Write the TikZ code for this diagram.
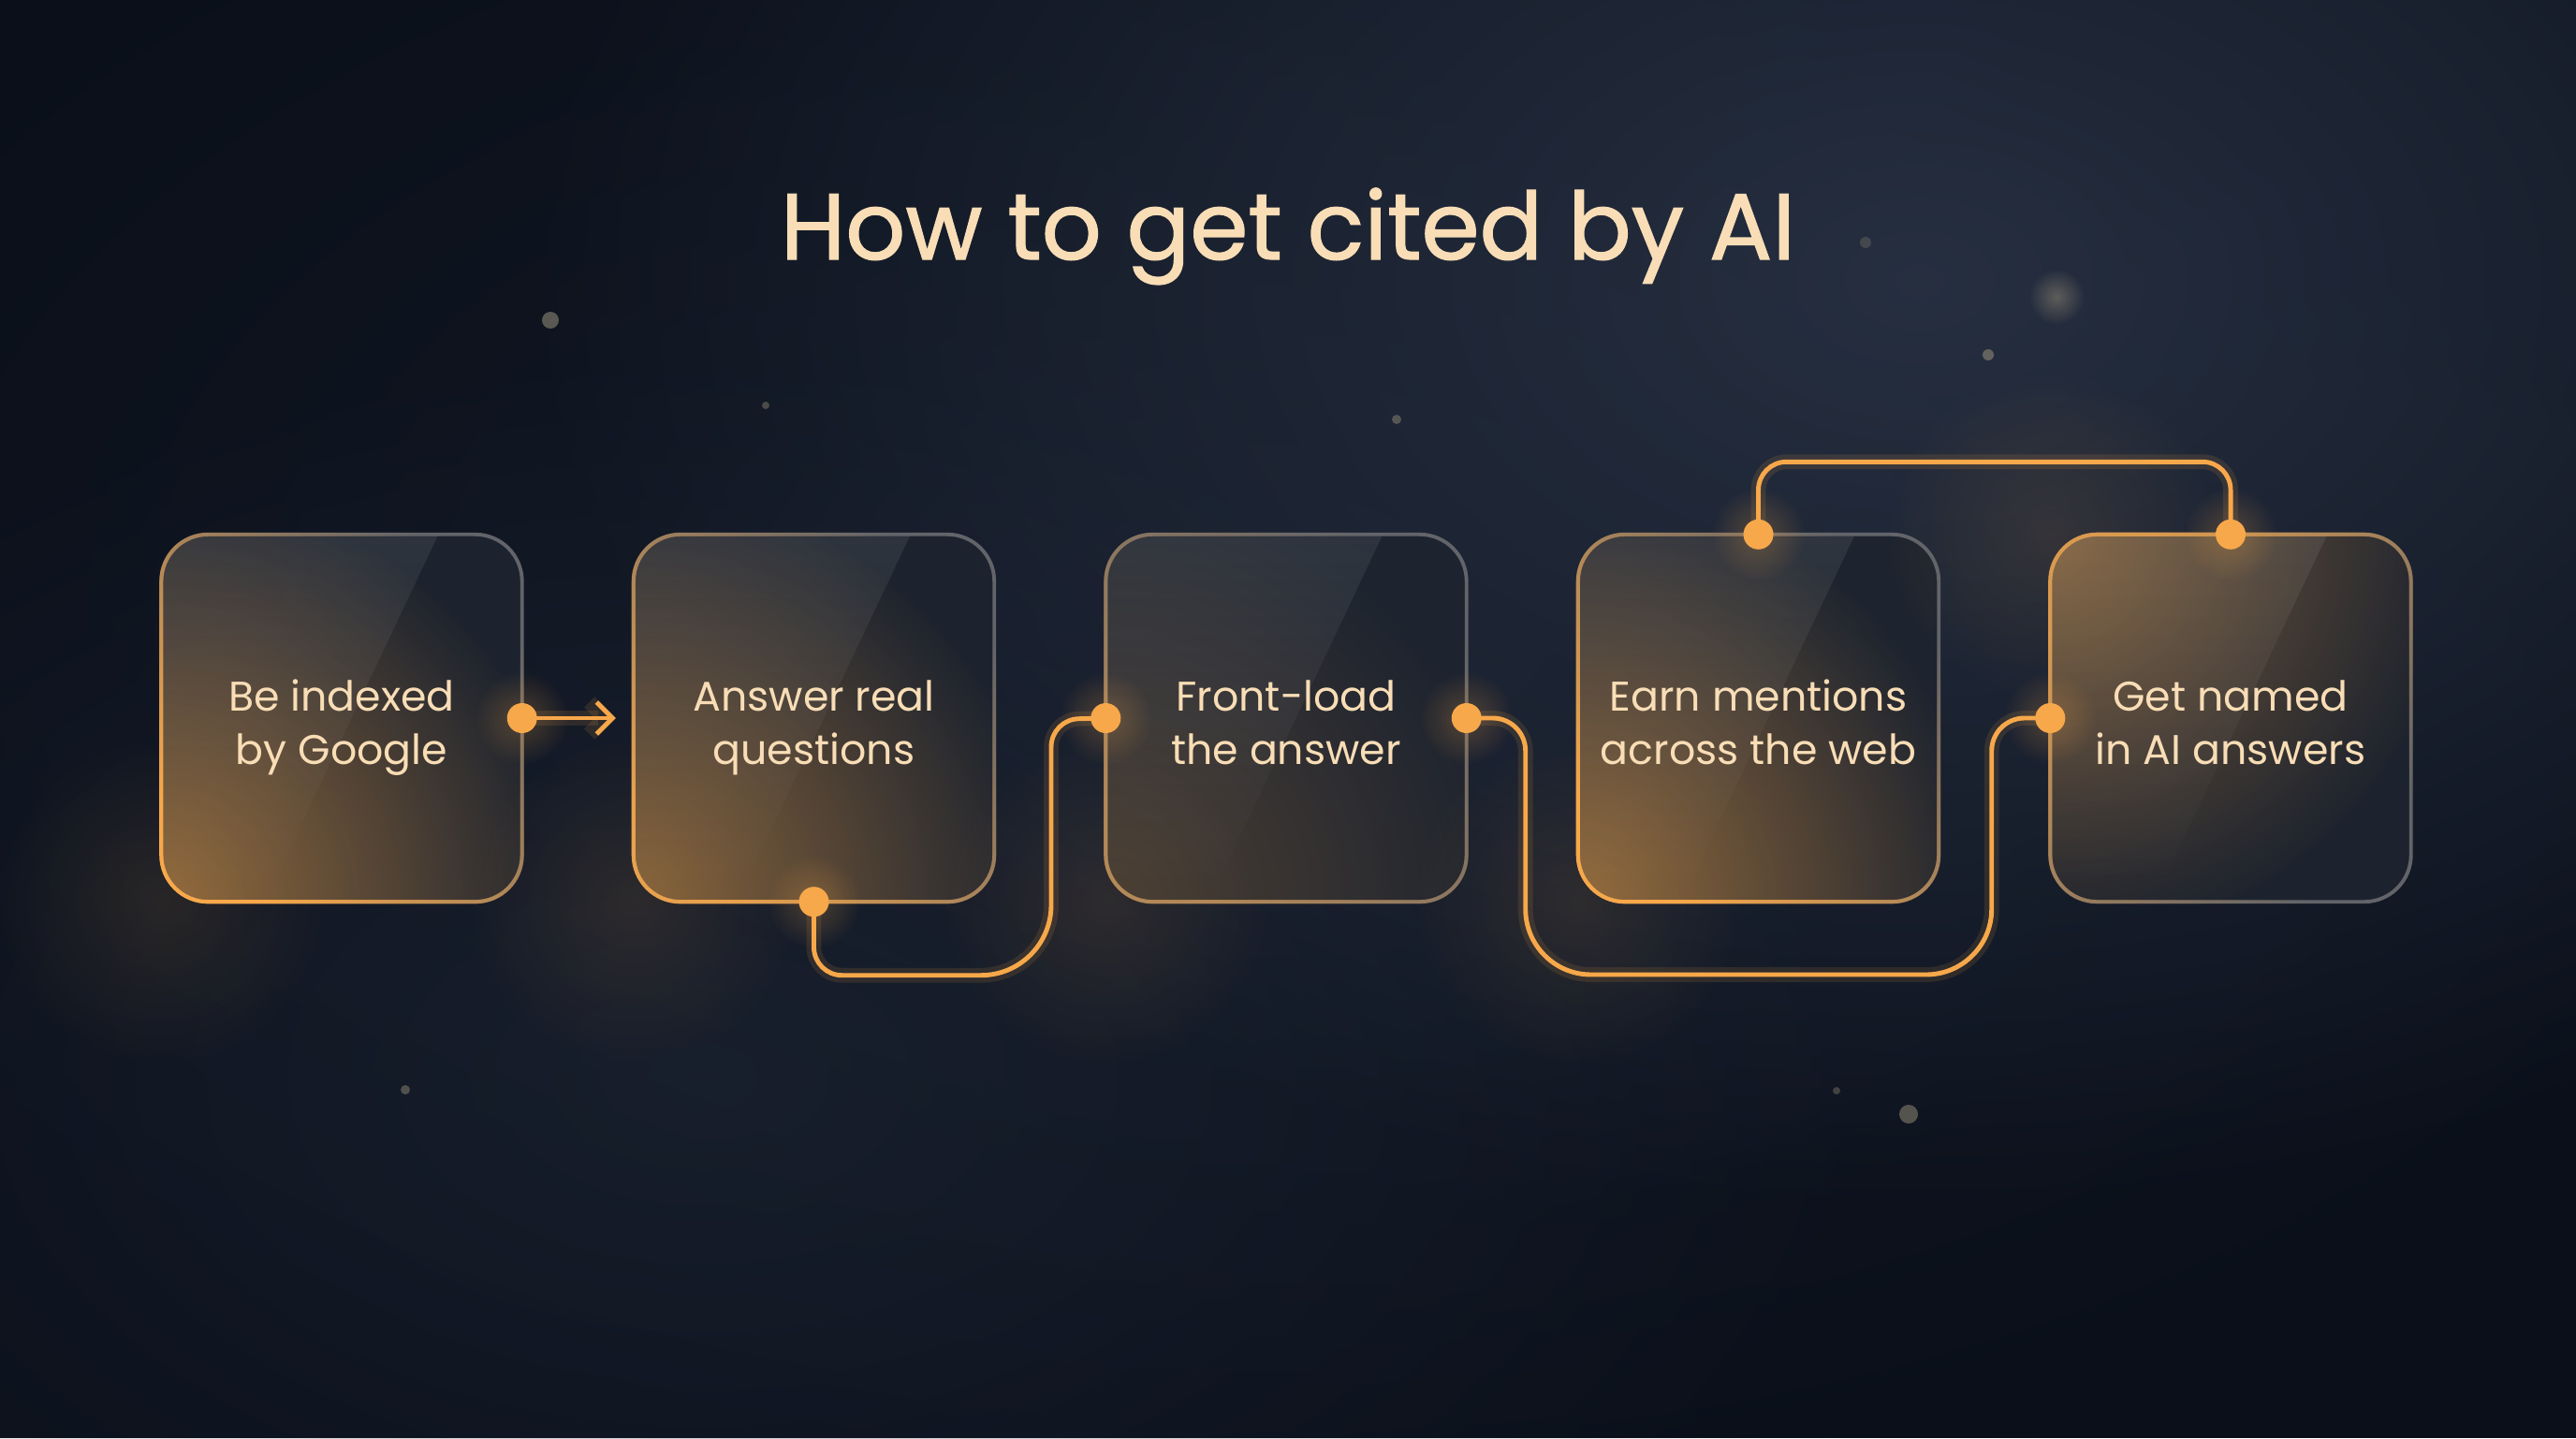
\documentclass[tikz,border=0pt]{standalone}
\usepackage{fontspec}
\setmainfont{Poppins}
\newfontfamily\titlefont{Poppins}[FakeBold=1.2]
\usetikzlibrary{arrows.meta,fadings,backgrounds}

\definecolor{bgdark}{HTML}{0A0F19}
\definecolor{haze}{HTML}{283143}
\definecolor{cardfill}{HTML}{1E242F}
\definecolor{cardedge}{HTML}{62646A}
\definecolor{amber}{HTML}{F7A84A}
\definecolor{cream}{HTML}{F8DDB6}
\definecolor{speck}{HTML}{8E8674}

\tikzfading[name=softfade, inner color=transparent!0, outer color=transparent!100]
\tikzfading[name=fadeleft, left color=transparent!0, right color=transparent!100]
\tikzfading[name=fadedown, top color=transparent!0, bottom color=transparent!100]

\newcommand\topstrut{\rule{0pt}{16pt}}
\newcommand\botstrut{\rule[-4pt]{0pt}{4pt}}

\begin{document}
\begin{tikzpicture}[
  card/.style={minimum width=3.84cm, minimum height=3.91cm, align=center,
    text=cream, font=\fontsize{12.6}{16}\selectfont},
  cardshape/.style={rounded corners=0.5cm},
  wire/.style={amber, line width=1.4pt,
    preaction={draw=amber, line width=4.5pt, draw opacity=0.12}}]
  \useasboundingbox (0,0) rectangle (27.52,-15.36);

  \node[text=cream, font=\titlefont\fontsize{28.5}{34}\selectfont, anchor=base] (title) at (13.76,-2.77) {How to get cited by AI};

  \node[card] (b1) at (3.65,-7.67) {\topstrut Be indexed\\by Google\botstrut};
  \node[card] (b2) at (8.695,-7.67) {\topstrut Answer real\\questions\botstrut};
  \node[card] (b3) at (13.74,-7.67) {\topstrut Front-load\\the answer\botstrut};
  \node[card] (b4) at (18.785,-7.67) {\topstrut Earn mentions\\across the web\botstrut};
  \node[card] (b5) at (23.83,-7.67) {\topstrut Get named\\in AI answers\botstrut};

  \begin{scope}[on background layer]
    \fill[bgdark] (0,0) rectangle (27.52,-15.36);
    % haze
    \fill[haze, opacity=0.95, path fading=softfade] (20.5,-3.0) ellipse (15 and 10);
    \fill[haze, opacity=0.4, path fading=softfade] (7.5,-11.5) ellipse (13 and 8);
    \fill[haze, opacity=0.3, path fading=softfade] (13.5,-6.5) ellipse (18 and 10);
    % specks
    \foreach \x/\y/\r/\o in {5.88/-3.42/0.09/0.6, 8.18/-4.33/0.04/0.45, 14.92/-4.48/0.05/0.5,
        21.24/-3.79/0.06/0.6, 19.93/-2.59/0.06/0.3, 4.33/-11.64/0.05/0.5,
        20.39/-11.90/0.10/0.55, 19.62/-11.65/0.04/0.4}
      \fill[speck, opacity=\o] (\x,\y) circle (\r);
    \fill[speck, opacity=0.55, path fading=softfade] (21.97,-3.17) circle (0.3);
    % glass cards
    \foreach \i/\cor/\op in {1/south west/0.55, 2/south west/0.5, 3/south west/0.22,
        4/south west/0.55, 5/north west/0.45} {
      \fill[amber, opacity=0.1, path fading=softfade] (b\i.\cor) circle (1.8);
      \fill[cardfill, opacity=0.93, cardshape] (b\i.south west) rectangle (b\i.north east);
      \begin{scope}
        \clip[cardshape] (b\i.south west) rectangle (b\i.north east);
        \fill[amber, opacity=\op, path fading=softfade] (b\i.\cor) circle (4.4);
        \fill[white, opacity=0.08, path fading=fadedown] (b\i.north west) -- ++(2.96,0)
          -- ++(-1.85,-3.91) -- (b\i.south west) -- cycle;
      \end{scope}
    }
  \end{scope}

  % card edges
  \foreach \i/\ang/\op in {1/45/1, 2/45/0.9, 3/45/0.55, 4/45/1, 5/-45/0.8} {
    \draw[cardedge, line width=1.1pt, cardshape] (b\i.south west) rectangle (b\i.north east);
    \draw[amber, opacity=\op, line width=1.2pt, cardshape, path fading=fadeleft, fading angle=\ang]
      (b\i.south west) rectangle (b\i.north east);
  }

  % connectors
  \coordinate (a12) at ([xshift=-0.19cm]b2.west);
  \draw[wire, -{Straight Barb[length=0.17cm, width=0.34cm]}] (b1.east) -- (a12);
  \draw[wire] (b2.south) -- ++(0,-0.485) arc[start angle=180, end angle=270, radius=0.3]
    -- ++(1.485,0) arc[start angle=270, end angle=360, radius=0.75]
    -- ++(0,1.69) arc[start angle=180, end angle=90, radius=0.3] -- (b3.west);
  \draw[wire] (b3.east) -- ++(0.28,0) arc[start angle=90, end angle=0, radius=0.35]
    -- ++(0,-1.69) arc[start angle=180, end angle=270, radius=0.7]
    -- ++(3.58,0) arc[start angle=270, end angle=360, radius=0.7]
    -- ++(0,1.69) arc[start angle=180, end angle=90, radius=0.35] -- (b5.west);
  \draw[wire] (b4.north) -- ++(0,0.475) arc[start angle=180, end angle=90, radius=0.3]
    -- ++(4.445,0) arc[start angle=90, end angle=0, radius=0.3] -- (b5.north);

  % joints
  \foreach \p in {b1.east, b2.south, b3.west, b3.east, b4.north, b5.west, b5.north} {
    \fill[amber, opacity=0.25, path fading=softfade] (\p) circle (0.5);
    \fill[amber] (\p) circle (0.16);
  }
\end{tikzpicture}
\end{document}
